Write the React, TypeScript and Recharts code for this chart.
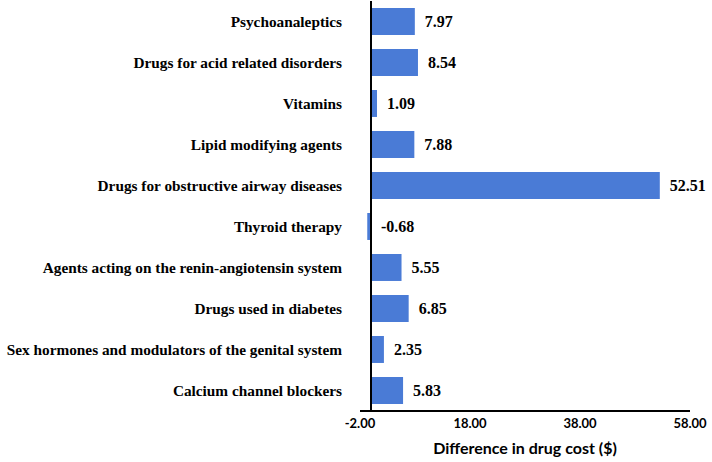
import React from 'react';
import { BarChart, Bar, XAxis, YAxis, ReferenceLine, LabelList } from 'recharts';

const categories = [
  'Psychoanaleptics',
  'Drugs for acid related disorders',
  'Vitamins',
  'Lipid modifying agents',
  'Drugs for obstructive airway diseases',
  'Thyroid therapy',
  'Agents acting on the renin-angiotensin system',
  'Drugs used in diabetes',
  'Sex hormones and modulators of the genital system',
  'Calcium channel blockers',
];
const costDiff = [7.97, 8.54, 1.09, 7.88, 52.51, -0.68, 5.55, 6.85, 2.35, 5.83];
const xTicks = [-2, 18, 38, 58];

const data = categories.map((name, i) => ({ name, value: costDiff[i] }));

const serif = 'Liberation Serif, Times New Roman, serif';
const sans = 'Lato, Open Sans, sans-serif';

// label sits to the right of the bar end, or right of zero for negatives
function ValueLabel(props: any) {
  const { x, y, width, height, value } = props;
  const right = Math.max(x, x + width);
  return (
    <text
      x={right + 10}
      y={y + height / 2}
      dy="0.35em"
      style={{ fontFamily: serif, fontWeight: 'bold', fontSize: 16 }}
      fill="#000"
    >
      {Number(value).toFixed(2)}
    </text>
  );
}

export default function App() {
  return (
    <div style={{ position: 'absolute', left: 0, top: 0, background: '#fff' }}>
      <BarChart
        width={712}
        height={462}
        data={data}
        layout="vertical"
        margin={{ top: 1, right: 22, left: 0, bottom: 0 }}
        barCategoryGap="17%"
      >
        <XAxis
          type="number"
          domain={[-2, 58]}
          ticks={xTicks}
          tickFormatter={(v: number) => v.toFixed(2)}
          axisLine={{ stroke: '#000', strokeWidth: 2 }}
          tickLine={false}
          tick={{ fill: '#000', style: { fontFamily: sans, fontWeight: 'bold', fontSize: 13 } }}
          height={51}
          label={{
            value: 'Difference in drug cost ($)',
            position: 'insideBottom',
            offset: 8,
            fill: '#000',
            style: { fontFamily: sans, fontWeight: 'bold', fontSize: 16 },
          }}
        />
        <YAxis
          type="category"
          dataKey="name"
          width={360}
          axisLine={false}
          tickLine={false}
          tickMargin={12}
          tick={{ fill: '#000', style: { fontFamily: serif, fontWeight: 'bold', fontSize: 15.3 } }}
          interval={0}
        />
        <ReferenceLine x={0} stroke="#000" strokeWidth={2} />
        <Bar dataKey="value" fill="#4a7bd6" isAnimationActive={false}>
          <LabelList dataKey="value" content={ValueLabel} />
        </Bar>
      </BarChart>
    </div>
  );
}
